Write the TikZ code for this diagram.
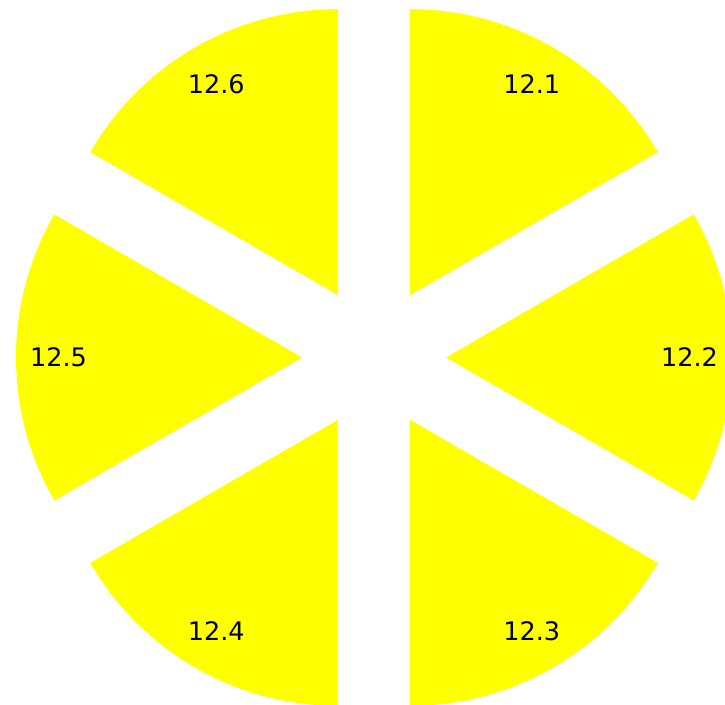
\documentclass[tikz,border=0pt]{standalone}
\usepackage{fontspec}
\setmainfont{DejaVu Sans}
\usetikzlibrary{calc}
\begin{document}
\begin{tikzpicture}[x=1pt,y=1pt,
  sector/.style={fill={rgb,255:red,255;green,255;blue,0}},
  lbl/.style={font=\fontsize{25.5}{30}\selectfont, text=black, inner sep=0pt}]
\useasboundingbox (0,0) rectangle (725,704);
\coordinate (C) at (374,346.5);
\foreach \a/\t/\n in {60/12.1/l1, 0/12.2/l2, -60/12.3/l3, -120/12.4/l4, 180/12.5/l5, 120/12.6/l6}{
  \fill[sector] ($(C)+(\a:72)$) -- ++(\a-30:286) arc[start angle=\a-30, end angle=\a+30, radius=286] -- cycle;
  \node[lbl] (\n) at ($(C)+(\a:315.5)$) {\t};
}
\end{tikzpicture}
\end{document}
